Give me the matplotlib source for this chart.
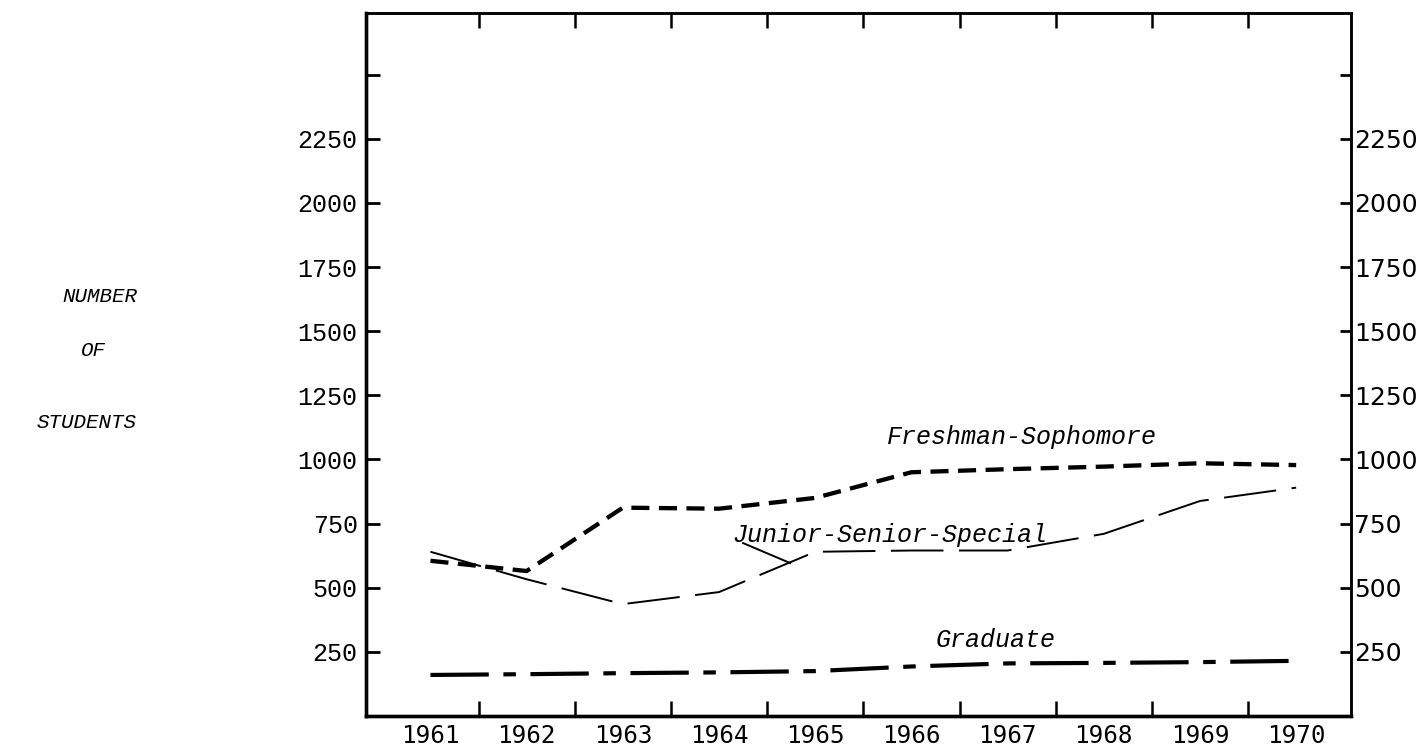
import numpy as np
import matplotlib.pyplot as plt

# data
years = [1961, 1962, 1963, 1964, 1965, 1966, 1967, 1968, 1969, 1970]
fresh_soph = [605, 565, 812, 808, 850, 950, 962, 972, 985, 978]
junior_senior = [640, 533, 436, 483, 640, 645, 645, 710, 838, 890]
graduate = [160, 163, 167, 170, 175, 193, 205, 207, 210, 215]

ytick_vals = [250, 500, 750, 1000, 1250, 1500, 1750, 2000, 2250, 2500]
ytick_labels = ['250', '500', '750', '1000', '1250', '1500', '1750', '2000', '2250', '']
xtick_bounds = [1961.5, 1962.5, 1963.5, 1964.5, 1965.5, 1966.5, 1967.5, 1968.5, 1969.5]

W, H = 1418, 750
fig = plt.figure(figsize=(W / 100, H / 100), dpi=100)
ax = fig.add_axes([366 / W, 1 - 716 / H, (1351 - 366) / W, (716 - 13) / H])

ax.plot(years, fresh_soph, color='black', lw=3.1, dashes=(4.2, 2.2))
ax.plot(years, junior_senior, color='black', lw=1.4, dashes=(27, 8))
ax.plot(years, graduate, color='black', lw=3.0, dashes=(14, 3.5, 3, 3.5))

ax.set_xlim(1960.33, 1970.57)
ax.set_ylim(0, 2740)

# x: ticks between years, labels on the years
ax.set_xticks(xtick_bounds, [''] * len(xtick_bounds))
ax.set_xticks(years, [str(y) for y in years], minor=True)
ax.tick_params(axis='x', which='major', direction='in', length=11, width=1.8,
               top=True, bottom=True)
ax.tick_params(axis='x', which='minor', length=0, pad=6)
for lbl in ax.get_xticklabels(minor=True):
    lbl.set_fontfamily('DejaVu Sans Mono')
    lbl.set_fontsize(17.5)

ax.set_yticks(ytick_vals, ytick_labels)
ax.tick_params(axis='y', direction='in', length=10, width=2, pad=6)
for lbl in ax.get_yticklabels():
    lbl.set_fontfamily('Liberation Mono')
    lbl.set_fontsize(18)

ax2 = ax.twinx()
ax2.set_ylim(ax.get_ylim())
ax2.set_yticks(ytick_vals, ytick_labels)
ax2.tick_params(axis='y', direction='in', length=8, width=2, pad=2)
for lbl in ax2.get_yticklabels():
    lbl.set_fontfamily('DejaVu Sans')
    lbl.set_fontsize(18)

for a in (ax, ax2):
    for side in ['left', 'bottom']:
        a.spines[side].set_linewidth(2.4)
    for side in ['top', 'right']:
        a.spines[side].set_linewidth(1.8)

lab = dict(family='Liberation Mono', style='italic', fontsize=18, color='black')
ax.text(1965.75, 1086, 'Freshman-Sophomore', ha='left', va='center', **lab)
ax.text(1964.14, 705, 'Junior-Senior-Special', ha='left', va='center', **lab)
ax.text(1966.25, 296, 'Graduate', ha='left', va='center', **lab)
ax.plot([1964.25, 1964.74], [674, 596], color='black', lw=1.4)

side = dict(family='Liberation Mono', style='italic', fontsize=15, color='black')
fig.text(137 / W, 1 - 296 / H, 'NUMBER', ha='right', va='center', **side)
fig.text(106 / W, 1 - 350 / H, 'OF', ha='right', va='center', **side)
fig.text(137 / W, 1 - 423 / H, 'STUDENTS', ha='right', va='center', **side)

fig.savefig('out.png', dpi=100)
